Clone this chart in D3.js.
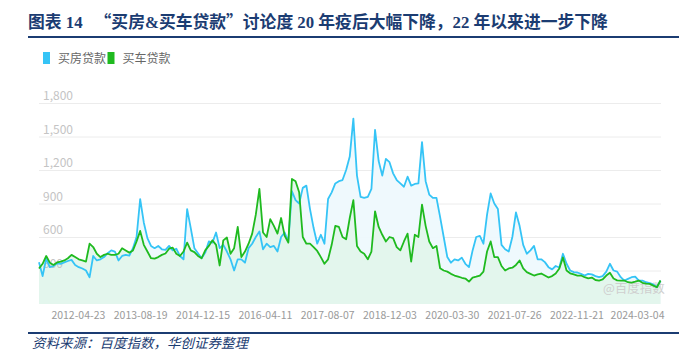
<!DOCTYPE html>
<html>
<head>
<meta charset="utf-8">
<script src="https://cdn.jsdelivr.net/npm/d3@7"></script>
<style>
  body { margin: 0; background: #fff; }
  svg { display: block; }
</style>
</head>
<body>
<svg id="chart" width="679" height="353"></svg>
<script>
// Series: Baidu index, one value every 4 weeks
var startDate = new Date(2011, 5, 27);
var stepWeeks = 4;

var buyHouse = [
  374, 250, 407, 330, 340, 365, 360, 372, 385, 395, 350, 330, 318, 300, 240, 430,
  390, 400, 420, 455, 480, 470, 390, 430, 440, 434, 500, 600, 940, 730, 590, 520,
  500, 520, 490, 485, 520, 480, 495, 430, 400, 850, 680, 500, 455, 410, 460, 560,
  550, 640, 500, 530, 470, 400, 300, 400, 400, 370, 500, 540, 600, 650, 490, 540,
  510, 520, 470, 600, 640, 560, 1010, 930, 900, 1040, 1060, 850, 680, 540, 620, 540,
  940, 1000, 1080, 1100, 1110, 1200, 1320, 1660, 1150, 960, 950, 960, 1030, 1560, 1280, 1150,
  1300, 1270, 1170, 1110, 1080, 1050, 1140, 1060, 1075, 1080, 1450, 1100, 980, 950, 950, 780,
  600, 420, 370, 400, 390, 415, 360, 330, 480, 600, 610, 540, 800, 990, 900, 850,
  530, 490, 470, 600, 820, 700, 530, 450, 480, 520, 400, 400, 375, 330, 310, 340,
  327, 450, 360, 300, 285, 282, 270, 255, 270, 265, 250, 240, 250, 290, 360, 300,
  290, 240, 210, 225, 240, 245, 210, 210, 195, 188, 175, 150, 210
];

var buyCar = [
  318, 360, 430, 370, 350, 372, 380, 390, 410, 440, 420, 400, 390, 380, 540, 510,
  450, 420, 440, 450, 440, 440, 450, 500, 480, 460, 480, 560, 655, 530, 470, 410,
  407, 420, 440, 452, 495, 505, 450, 430, 470, 550, 480, 465, 430, 410, 480, 520,
  570, 530, 345, 570, 595, 450, 500, 690, 420, 470, 540, 630, 800, 1030, 640, 600,
  760, 700, 630, 770, 610, 550, 1120, 1100, 1000, 600, 540, 540, 510, 475, 420, 360,
  400, 530, 700, 690, 600, 580, 770, 930, 520, 470, 450, 400, 470, 830, 690, 620,
  560, 600, 590, 510, 480, 560, 630, 380, 620, 600, 890, 700, 560, 500, 520, 320,
  300, 290, 270, 255, 245, 235, 228, 200, 237, 245, 255, 290, 470, 560, 420, 420,
  340, 300, 318, 325, 350, 390, 318, 285, 270, 255, 265, 273, 255, 237, 250, 273,
  318, 416, 300, 275, 265, 255, 255, 240, 230, 237, 215, 210, 220, 255, 280, 228,
  212, 210, 210, 195, 192, 200, 210, 190, 183, 180, 165, 150, 210
];

var seriesNames = ["买房贷款", "买车贷款"];
var seriesColors = ["#35c4f6", "#1fba1f"];
var areaColors = ["#eef8fd", "#e2f5ec"];
var yTicks = [0, 300, 600, 900, 1200, 1500, 1800];
var xTickLabels = ["2012-04-23", "2013-08-19", "2014-12-15", "2016-04-11", "2017-08-07",
  "2018-12-03", "2020-03-30", "2021-07-26", "2022-11-21", "2024-03-04"];

// title pieces: [text, uses CJK font for the glyphs, extra gap before]
var titleParts = [
  ["图表 14", false, 0],
  ["\u201c", true, 12],
  ["买房&买车贷款", false, 0],
  ["\u201d", true, 0],
  ["讨论度 20 年疫后大幅下降，22 年以来进一步下降", false, 0]
];
var sourceText = "资料来源：百度指数，华创证券整理";

var navy = "#1b3c72";
var svg = d3.select("#chart");

var data = buyHouse.map(function(d, i){
  return { date: d3.timeWeek.offset(startDate, i * stepWeeks), house: d, car: buyCar[i] };
});

var plot = {left: 39, right: 660.5, top: 103, bottom: 304};

var x = d3.scaleTime()
  .domain(d3.extent(data, function(d){ return d.date; }))
  .range([plot.left, plot.right]);
var y = d3.scaleLinear().domain([0, 1800]).range([plot.bottom, plot.top]);

//Title
var title = svg.append("text")
  .attr("x", 28)
  .attr("y", 28)
  .style("font-family", "'Liberation Serif', 'Noto Sans CJK SC'")
  .style("font-size", "16.8px")
  .style("font-weight", "bold")
  .style("fill", navy);
titleParts.forEach(function(p){
  title.append("tspan")
    .attr("dx", p[2])
    .style("font-family", p[1] ? "'Noto Sans CJK SC'" : null)
    .text(p[0]);
});

svg.append("line")
  .attr("x1", 28).attr("x2", 679)
  .attr("y1", 37).attr("y2", 37)
  .style("stroke", navy)
  .style("stroke-width", 2);

//Legend
var legend = svg.append("g").attr("transform", "translate(43,52)");
var legendX = [0, 64.5];
seriesNames.forEach(function(name, i){
  legend.append("rect")
    .attr("x", legendX[i]).attr("y", 0)
    .attr("width", 7).attr("height", 12)
    .style("fill", seriesColors[i]);
  legend.append("text")
    .attr("x", legendX[i] + 15).attr("y", 10.5)
    .style("font-family", "'Noto Sans CJK SC'")
    .style("font-size", "12px")
    .style("fill", "#666")
    .text(name);
});

//Grid lines (under the areas)
svg.append("g").selectAll("line").data(yTicks.filter(function(d){ return d > 0; }))
  .enter().append("line")
    .attr("x1", plot.left).attr("x2", 661)
    .attr("y1", function(d){ return y(d) + 0.5; })
    .attr("y2", function(d){ return y(d) + 0.5; })
    .style("stroke", "#ececec")
    .style("stroke-width", 1);

//Areas
var keys = ["house", "car"];
keys.forEach(function(k, i){
  var area = d3.area()
    .x(function(d){ return x(d.date); })
    .y0(plot.bottom)
    .y1(function(d){ return y(d[k]); });
  svg.append("path")
    .datum(data)
    .attr("d", area)
    .style("fill", areaColors[i])
    .style("fill-opacity", 0.92);
});

//Y labels sit above the fill, below the lines
svg.append("g").selectAll("text").data(yTicks.filter(function(d){ return d > 0; }))
  .enter().append("text")
    .attr("x", 43)
    .attr("y", function(d){ return y(d) - 3; })
    .style("font-family", "'Noto Sans CJK SC'")
    .style("font-size", "12px")
    .style("fill", "#c4c4c4")
    .text(d3.format(","));

//Watermark
svg.append("text")
  .attr("x", 603)
  .attr("y", 293)
  .style("font-family", "'Noto Sans CJK SC'")
  .style("font-size", "12.5px")
  .style("fill", "#cfcfcf")
  .text("@百度指数");

//Lines
keys.forEach(function(k, i){
  var line = d3.line()
    .x(function(d){ return x(d.date); })
    .y(function(d){ return y(d[k]); });
  svg.append("path")
    .datum(data)
    .attr("d", line)
    .style("fill", "none")
    .style("stroke", seriesColors[i])
    .style("stroke-width", 1.8)
    .style("stroke-linejoin", "round");
});

//X axis
var parseDay = d3.timeParse("%Y-%m-%d");
var xAxis = svg.append("g")
  .attr("transform", "translate(0," + plot.bottom + ")")
  .call(d3.axisBottom(x)
    .tickValues(xTickLabels.map(parseDay))
    .tickFormat(d3.timeFormat("%Y-%m-%d"))
    .tickSize(0)
    .tickPadding(8));
xAxis.select(".domain").remove();
xAxis.selectAll("text")
  .style("font-family", "'Noto Sans CJK SC'")
  .style("font-size", "10.5px")
  .style("fill", "#9a9a9a");

//Footer
svg.append("line")
  .attr("x1", 28).attr("x2", 679)
  .attr("y1", 333).attr("y2", 333)
  .style("stroke", navy)
  .style("stroke-width", 2);

svg.append("text")
  .attr("x", 32)
  .attr("y", 348)
  .style("font-family", "'Noto Sans CJK SC'")
  .style("font-size", "13.5px")
  .style("font-style", "italic")
  .style("fill", navy)
  .text(sourceText);
</script>
</body>
</html>
